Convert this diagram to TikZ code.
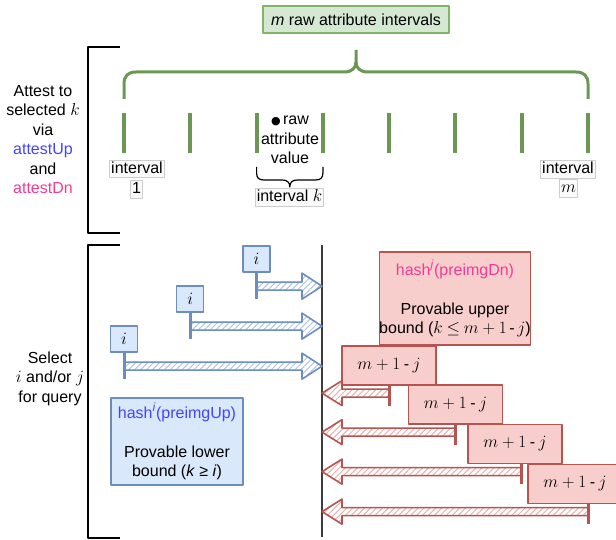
\documentclass[tikz,border=0pt]{standalone}
\usepackage{fontspec}
\setmainfont{Liberation Sans}
\newfontfamily\dotfont{DejaVu Sans}
\usetikzlibrary{calc,patterns.meta}
\DeclareMathSizes{16}{17.5}{12}{9}

\definecolor{grnline}{RGB}{108,150,84}
\definecolor{grnfill}{RGB}{213,232,212}
\definecolor{grnedge}{RGB}{130,179,102}
\definecolor{bluefill}{RGB}{218,232,252}
\definecolor{blueedge}{RGB}{108,142,191}
\definecolor{bluehatch}{RGB}{178,196,224}
\definecolor{redfill}{RGB}{248,206,204}
\definecolor{rededge}{RGB}{184,84,80}
\definecolor{redhatch}{RGB}{232,176,174}
\definecolor{bluetxt}{RGB}{68,68,255}
\definecolor{pinktxt}{RGB}{240,60,150}
\definecolor{axisgray}{RGB}{60,60,60}
\definecolor{tagedge}{RGB}{205,205,205}
\definecolor{tagfill}{RGB}{250,250,250}

\medmuskip=4mu plus 1mu minus 1mu
\thickmuskip=4mu plus 1mu

% right-pointing hatched arrow hanging from an i-box, tip on the axis
\newcommand\upshaftfrom[1]{%
  \coordinate (c#1) at ($(#1.south)+(0,13.5)$);
  \coordinate (p#1) at (axTop |- c#1);
  \path[upshaft] ($(c#1)+(0,-4)$) -- ($(p#1)+(-20,-4)$) -- ($(p#1)+(-20,-13)$)
    -- (p#1) -- ($(p#1)+(-20,13)$) -- ($(p#1)+(-20,4)$) -- ($(c#1)+(0,4)$) -- cycle;
  \draw[upstem] (#1.south) -- ($(c#1)+(0,13)$);
}
% left-pointing hatched arrow hanging below a j-box at a tick position
\newcommand\dnshaftfrom[2]{%
  \coordinate (s#1) at (#2 |- #1.south);
  \coordinate (c#1) at ($(s#1)+(0,7.5)$);
  \coordinate (p#1) at (axTop |- c#1);
  \path[dnshaft] ($(c#1)+(0,-4)$) -- ($(p#1)+(20,-4)$) -- ($(p#1)+(20,-12.5)$)
    -- (p#1) -- ($(p#1)+(20,12.5)$) -- ($(p#1)+(20,4)$) -- ($(c#1)+(0,4)$) -- cycle;
  \draw[dnstem] (s#1) -- ($(c#1)+(0,12.5)$);
}
\newcommand\mpj{$m + 1$\hspace{3.5pt}-\hspace{3.5pt}$j$}

\begin{document}
\begin{tikzpicture}[x=1pt,y=-1pt,line join=round,
  every node/.style={font=\fontsize{16}{19.4}\selectfont},
  greenbox/.style={rectangle,draw=grnedge,fill=grnfill,line width=1.3pt,
    minimum width=186pt,minimum height=27pt,inner sep=0pt},
  tag/.style={rectangle,draw=tagedge,fill=tagfill,line width=0.7pt,
    inner xsep=1.5pt,inner ysep=1pt,text height=12pt,text depth=3.5pt},
  ibox/.style={rectangle,draw=blueedge,fill=bluefill,line width=1.3pt,
    minimum width=27pt,minimum height=26pt,inner sep=0pt},
  bigblue/.style={rectangle,draw=blueedge,fill=bluefill,line width=1.3pt,
    minimum width=132pt,minimum height=87pt,inner sep=0pt,align=center},
  bigred/.style={rectangle,draw=rededge,fill=redfill,line width=1.3pt,
    minimum width=146pt,minimum height=93pt,inner sep=0pt,align=center},
  jbox/.style={rectangle,draw=rededge,fill=redfill,line width=1.3pt,
    minimum width=94pt,minimum height=39pt,inner sep=0pt},
  tickmark/.style={draw=grnline,line width=4pt},
  bracket/.style={draw=black,line width=2.2pt},
  gbrace/.style={draw=grnline,line width=3pt},
  kbrace/.style={draw=black,line width=1.2pt},
  axisline/.style={draw=axisgray,line width=1.5pt},
  upshaft/.style={draw=blueedge,line width=1.6pt,
    pattern={Lines[angle=45,distance=4.2pt,line width=1pt]},pattern color=bluehatch},
  upstem/.style={draw=blueedge,line width=3pt},
  dnshaft/.style={draw=rededge,line width=1.6pt,
    pattern={Lines[angle=45,distance=4.2pt,line width=1pt]},pattern color=redhatch},
  dnstem/.style={draw=rededge,line width=3pt},
]
\useasboundingbox (0,0) rectangle (616,540);

% interval boundaries
\foreach \k in {1,...,8} \coordinate (t\k) at ({124+(\k-1)*66.2857},113);
\foreach \k in {1,...,8} \draw[tickmark] (t\k) -- ++(0,40);

% title and its curly brace over all intervals
\node[greenbox] (title) at (356,19.5) {\textit{m} raw attribute intervals};
\draw[gbrace] (124,99) -- (124,84) .. controls (124,76) and (128,72) .. (136,72)
  -- (344,72) .. controls (352,72) and (356,68) .. (356,62) -- (356,50);
\draw[gbrace] (588,99) -- (588,84) .. controls (588,76) and (584,72) .. (576,72)
  -- (368,72) .. controls (360,72) and (356,68) .. (356,62);

% left-hand brackets and captions
\draw[bracket] (120,47) -- (88,47) -- (88,233) -- (120,233);
\draw[bracket] (120,245) -- (88,245) -- (88,538) -- (120,538);
\node[align=center] (attest) at (43,139.5)
  {Attest to\\selected $k$\\via\\\textcolor{bluetxt}{attestUp}\\and\\\textcolor{pinktxt}{attestDn}};
\node[align=center] (select) at (50,378.5) {Select\\$i$ and/or $j$\\for query};

% interval labels
\node[align=center] (rawval) at (290,140)
  {{\dotfont\fontsize{11}{11}\selectfont ●}\hspace{2.5pt}raw\\attribute\\value};
\node[tag] (iv1a) at (137,169) {interval};
\node[tag] (iv1b) at (136.5,189.5) {1};
\node[tag] (ivma) at (568,169.5) {interval};
\node[tag] (ivmb) at (568.5,188.5) {$m$};
\draw[kbrace] (256.6,167) -- (256.6,173) .. controls (256.6,178) and (259,180) .. (264,180)
  -- (282,180) .. controls (287,180) and (289.8,182) .. (289.8,187)
  .. controls (289.8,182) and (292.5,180) .. (297.5,180)
  -- (315.5,180) .. controls (320.5,180) and (322.9,178) .. (322.9,173) -- (322.9,167);
\node[tag] (ivk) at (289.5,197.5) {interval $k$};

% query axis
\coordinate (axTop) at (322,245);
\coordinate (axBot) at (322,537);
\draw[axisline] (axTop) -- (axBot);

% lower-bound queries
\node[ibox] (ib1) at ($(t3)+(0,146)$) {$i$};
\node[ibox] (ib2) at ($(t2)+(0,186)$) {$i$};
\node[ibox] (ib3) at ($(t1)+(0,226)$) {$i$};
\upshaftfrom{ib1}
\upshaftfrom{ib2}
\upshaftfrom{ib3}
\node[bigblue] (lower) at (177,441.5)
  {\textcolor{bluetxt}{hash\textsuperscript{\textit{i}}(preimgUp)}\\[19.4pt]Provable lower\\bound (\textit{k} ≥ \textit{i})};

% upper-bound queries
\node[bigred] (upper) at (455,298.5)
  {\textcolor{pinktxt}{hash\textsuperscript{\textit{j}}(preimgDn)}\\[19.4pt]Provable upper\\bound ($k \leq m + 1$\,-\,$j$)};
\node[jbox] (rb1) at (389,365.5) {\mpj};
\node[jbox] (rb2) at (455.5,404.5) {\mpj};
\node[jbox] (rb3) at (515,444) {\mpj};
\node[jbox] (rb4) at (575,484) {\mpj};
\dnshaftfrom{rb1}{t5}
\dnshaftfrom{rb2}{t6}
\dnshaftfrom{rb3}{t7}
\dnshaftfrom{rb4}{t8}
\end{tikzpicture}
\end{document}
